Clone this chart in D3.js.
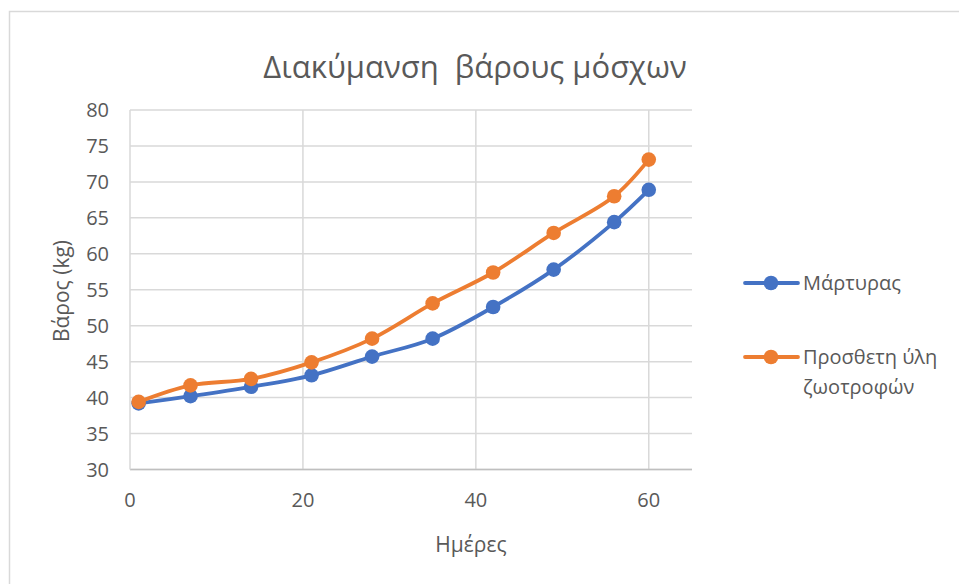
<!DOCTYPE html>
<html><head><meta charset="utf-8">
<script src="https://cdn.jsdelivr.net/npm/d3@7"></script>
<style>body{margin:0;background:#fff}svg{display:block}text{font-family:"Open Sans","Noto Sans",sans-serif;fill:#595959}</style>
</head><body><svg id="c" width="959" height="584"></svg>
<script>
const days = [1, 7, 14, 21, 28, 35, 42, 49, 56, 60];
const control = [39.2, 40.2, 41.5, 43.1, 45.7, 48.2, 52.6, 57.8, 64.4, 68.9];
const supplement = [39.4, 41.7, 42.6, 44.9, 48.2, 53.1, 57.4, 62.9, 68.0, 73.1];
const seriesNames = ["Μάρτυρας", "Προσθετη ύλη ζωοτροφών"];
const xTicks = [0, 20, 40, 60];
const yTicks = [30, 35, 40, 45, 50, 55, 60, 65, 70, 75, 80];
const title = "Διακύμανση  βάρους μόσχων";
const xLabel = "Ημέρες";
const yLabel = "Βάρος (kg)";

const colors = ["#4472C4", "#ED7D31"];
const svg = d3.select("#c");
svg.append("rect").attr("x", 9.5).attr("y", 11.5).attr("width", 1000).attr("height", 1000)
  .attr("fill", "#fff").attr("stroke", "#d9d9d9").attr("stroke-width", 1.5);

const L = 130, R = 692, T = 110, B = 469.5;
const x = d3.scaleLinear().domain([0, 65]).range([L, R]);
const y = d3.scaleLinear().domain([30, 80]).range([B, T]);

// gridlines
svg.append("g").selectAll("line").data(yTicks).join("line")
  .attr("x1", L).attr("x2", R).attr("y1", d => y(d)).attr("y2", d => y(d))
  .attr("stroke", "#d9d9d9").attr("stroke-width", 1.5);
svg.append("g").selectAll("line").data(xTicks.filter(d => d > 0)).join("line")
  .attr("x1", d => x(d)).attr("x2", d => x(d)).attr("y1", T).attr("y2", B)
  .attr("stroke", "#d9d9d9").attr("stroke-width", 1.5);
// axes lines
svg.append("line").attr("x1", L).attr("x2", R).attr("y1", B).attr("y2", B).attr("stroke", "#bfbfbf").attr("stroke-width", 1.5);
svg.append("line").attr("x1", L).attr("x2", L).attr("y1", T).attr("y2", B).attr("stroke", "#d9d9d9").attr("stroke-width", 1.5);

// tick labels
svg.append("g").selectAll("text").data(yTicks).join("text")
  .attr("x", 109).attr("y", d => y(d)).attr("dy", "0.36em").attr("text-anchor", "end")
  .attr("font-size", 20).text(d => d);
svg.append("g").selectAll("text").data(xTicks).join("text")
  .attr("x", d => x(d)).attr("y", 507).attr("text-anchor", "middle")
  .attr("font-size", 20).text(d => d);

// title and axis labels
svg.append("text").attr("x", 475).attr("y", 78).attr("text-anchor", "middle")
  .attr("font-size", 31).text(title).style("white-space", "pre");
svg.append("text").attr("x", 471).attr("y", 552).attr("text-anchor", "middle")
  .attr("font-size", 21).text(xLabel);
svg.append("text").attr("transform", "translate(69,291) rotate(-90)").attr("text-anchor", "middle")
  .attr("font-size", 21).text(yLabel);

// series
const series = [control, supplement];
const line = d3.line().x((d, i) => x(days[i])).y(d => y(d)).curve(d3.curveCatmullRom.alpha(0.5));
series.forEach((s, k) => {
  svg.append("path").datum(s).attr("d", line).attr("fill", "none")
    .attr("stroke", colors[k]).attr("stroke-width", 3.8).attr("stroke-linecap", "round");
  svg.append("g").selectAll("circle").data(s).join("circle")
    .attr("cx", (d, i) => x(days[i])).attr("cy", d => y(d)).attr("r", 7.3).attr("fill", colors[k]);
});

// legend
const legY = [283, 357];
series.forEach((s, k) => {
  const g = svg.append("g");
  g.append("line").attr("x1", 745).attr("x2", 798).attr("y1", legY[k]).attr("y2", legY[k])
    .attr("stroke", colors[k]).attr("stroke-width", 3.8).attr("stroke-linecap", "round");
  g.append("circle").attr("cx", 771).attr("cy", legY[k]).attr("r", 7.3).attr("fill", colors[k]);
});
svg.append("text").attr("x", 803).attr("y", legY[0]).attr("dy", "0.35em").attr("font-size", 20).text(seriesNames[0]);
const t2 = svg.append("text").attr("x", 803).attr("y", legY[1]).attr("dy", "0.35em").attr("font-size", 20);
t2.append("tspan").attr("x", 803).text("Προσθετη ύλη");
t2.append("tspan").attr("x", 803).attr("dy", 30).text("ζωοτροφών");
</script></body></html>
